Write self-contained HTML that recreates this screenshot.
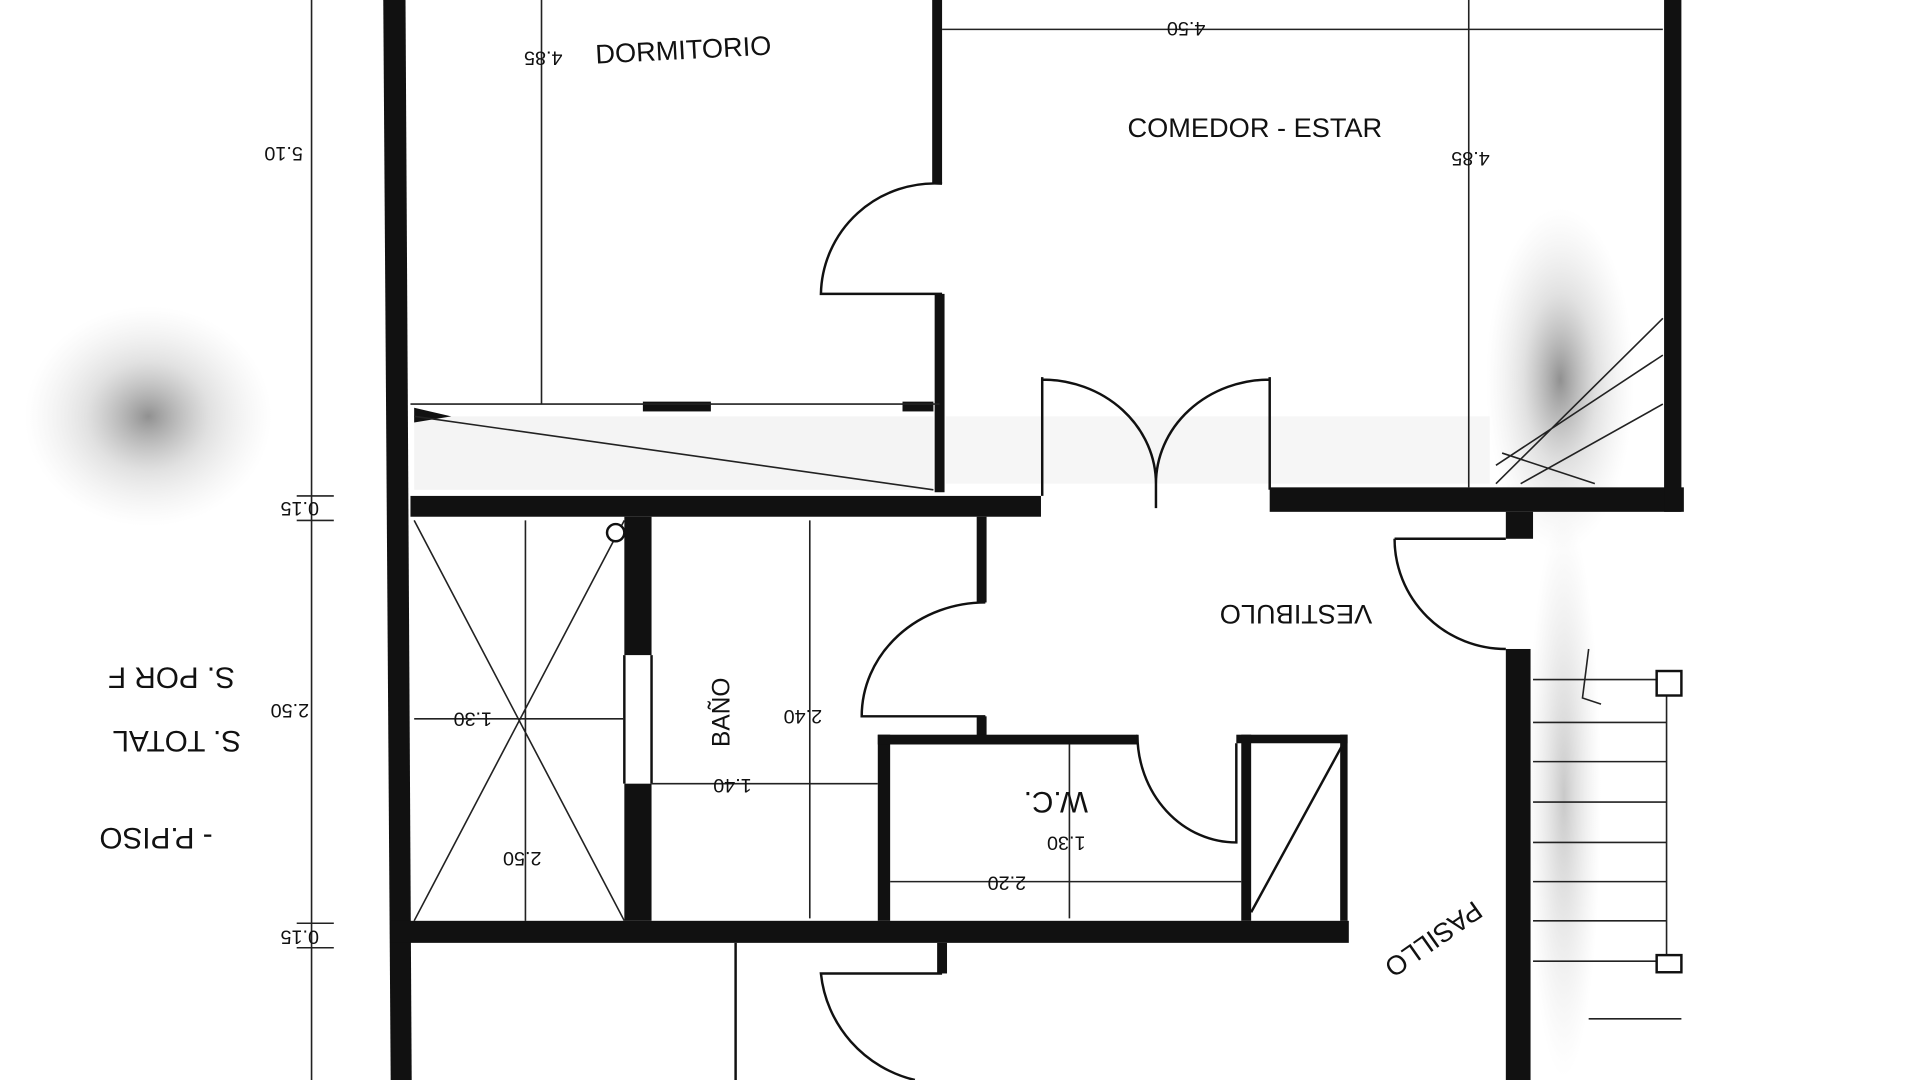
<!DOCTYPE html>
<html><head><meta charset="utf-8"><style>html,body{margin:0;padding:0;background:#fff;overflow:hidden}svg{display:block}</style></head>
<body>
<svg width="1920" height="1080" viewBox="0 0 1553 882" preserveAspectRatio="none" xmlns="http://www.w3.org/2000/svg" font-family="Liberation Sans, sans-serif">
<defs>
<radialGradient id="g1" cx="0.5" cy="0.5" r="0.5"><stop offset="0" stop-color="#555" stop-opacity="0.65"/><stop offset="0.5" stop-color="#888" stop-opacity="0.25"/><stop offset="1" stop-color="#bbb" stop-opacity="0"/></radialGradient>
<radialGradient id="g2" cx="0.5" cy="0.5" r="0.5"><stop offset="0" stop-color="#777" stop-opacity="0.4"/><stop offset="1" stop-color="#bbb" stop-opacity="0"/></radialGradient>
</defs>
<rect width="1553" height="882" fill="#fff"/>
<ellipse cx="120" cy="340" rx="100" ry="90" fill="url(#g1)"/>
<ellipse cx="1262" cy="310" rx="60" ry="140" fill="url(#g1)"/>
<ellipse cx="1265" cy="650" rx="30" ry="230" fill="url(#g2)"/>
<rect x="335" y="340" width="420" height="60" fill="#e6e6e6" opacity="0.45"/>
<rect x="765" y="340" width="440" height="55" fill="#e6e6e6" opacity="0.35"/>
<g fill="#111">
<polygon points="310,0 328,0 333,882 316,882"/>
<rect x="332" y="405" width="510" height="17"/>
<rect x="1027" y="398" width="335" height="20"/>
<rect x="1346" y="0" width="14" height="418"/>
<rect x="754" y="0" width="8" height="150"/>
<rect x="756" y="240" width="8" height="162"/>
<rect x="316" y="752" width="775" height="18"/>
<rect x="505" y="422" width="22" height="113"/>
<rect x="505" y="640" width="22" height="112"/>
<rect x="790" y="422" width="8" height="70"/>
<rect x="790" y="585" width="8" height="17"/>
<rect x="710" y="600" width="10" height="152"/>
<rect x="710" y="600" width="210" height="8"/>
<rect x="1000" y="600" width="90" height="7"/>
<rect x="1004" y="600" width="8" height="152"/>
<rect x="1084" y="600" width="6" height="152"/>
<rect x="1218" y="418" width="22" height="22"/>
<rect x="1218" y="530" width="20" height="352"/>
<rect x="758" y="770" width="8" height="25"/>
<rect x="520" y="328" width="55" height="8"/>
<rect x="730" y="328" width="25" height="8"/>
<polygon points="335,333 365,340 335,345"/>
</g>
<g fill="none" stroke="#111" stroke-width="2">
<path d="M762,150 A92,92 0 0 0 664,240 L762,240"/>
<path d="M843,308 L843,405 M843,310 A92,85 0 0 1 935,395 M1027,308 L1027,400 M1027,310 A92,85 0 0 0 935,395 L935,415"/>
<path d="M797,492 A100,93 0 0 0 697,585 L797,585"/>
<path d="M920,600 A80,88 0 0 0 1000,688 L1000,607"/>
<path d="M1128,440 A90,90 0 0 0 1218,530 M1128,440 L1218,440"/>
<path d="M762,795 L664,795 A100,100 0 0 0 740,882"/>
<path d="M595,770 L595,882"/>
<path d="M505,535 L505,640 M527,535 L527,640"/>
<path d="M1012,745 L1085,610"/>
</g>
<g fill="none" stroke="#222" stroke-width="1.3">
<path d="M335,425 L505,752 M505,425 L335,752 M425,425 L425,752"/>
<path d="M332,330 L760,330 M335,340 L755,400"/>
<path d="M438,0 L438,330 M1188,0 L1188,398 M762,24 L1345,24"/>
<path d="M655,425 L655,750 M527,640 L710,640 M335,587 L505,587 M720,720 L1004,720 M865,608 L865,750"/>
<path d="M252,0 L252,882 M240,405 L270,405 M240,425 L270,425 M240,754 L270,754 M240,774 L270,774"/>
<path d="M1348,555 L1348,790 M1240,555 L1360,555"/>
<path d="M1240,590 L1348,590 M1240,622 L1348,622 M1240,655 L1348,655 M1240,688 L1348,688 M1240,720 L1348,720 M1240,752 L1348,752 M1240,785 L1348,785 M1285,832 L1360,832"/>
<path d="M1210,395 L1345,260 M1210,380 L1345,290 M1230,395 L1345,330 M1215,370 L1290,395"/>
<path d="M1285,530 L1280,570 L1295,575"/>
</g>
<rect x="1340" y="548" width="20" height="20" fill="#fff" stroke="#111" stroke-width="2"/>
<rect x="1340" y="780" width="20" height="14" fill="#fff" stroke="#111" stroke-width="2"/>
<circle cx="498" cy="435" r="7" fill="#fff" stroke="#111" stroke-width="2"/>
<g fill="#111" font-size="20">
<text x="482" y="52" font-size="22" transform="rotate(-3 482 52)">DORMITORIO</text>
<text x="912" y="112" font-size="22">COMEDOR - ESTAR</text>
<g font-size="16">
<text transform="translate(455,42) rotate(180)">4.85</text>
<text transform="translate(975,18) rotate(180)">4.50</text>
<text transform="translate(1205,124) rotate(180)">4.85</text>
<text transform="translate(245,120) rotate(180)">5.10</text>
<text transform="translate(258,410) rotate(180)">0.15</text>
<text transform="translate(250,575) rotate(180)">2.50</text>
<text transform="translate(258,760) rotate(180)">0.15</text>
<text transform="translate(398,582) rotate(180)">1.30</text>
<text transform="translate(665,580) rotate(180)">2.40</text>
<text transform="translate(608,636) rotate(180)">1.40</text>
<text transform="translate(438,696) rotate(180)">2.50</text>
<text transform="translate(878,683) rotate(180)">1.30</text>
<text transform="translate(830,716) rotate(180)">2.20</text>
</g>
<text font-size="22" transform="translate(1110,494) rotate(180)">VESTIBULO</text>
<text font-size="24" transform="translate(880,647) rotate(180)">W.C.</text>
<text font-size="20" transform="translate(590,610) rotate(-90)">BAÑO</text>
<text font-size="24" transform="translate(190,545) rotate(180)">S. POR  F</text>
<text font-size="24" transform="translate(195,597) rotate(180)">S. TOTAL</text>
<text font-size="24" transform="translate(172,676) rotate(180)">- P.PISO</text>
<text font-size="22" transform="translate(1192,735) rotate(145)">PASILLO</text>
</g>
</svg>
</body></html>
